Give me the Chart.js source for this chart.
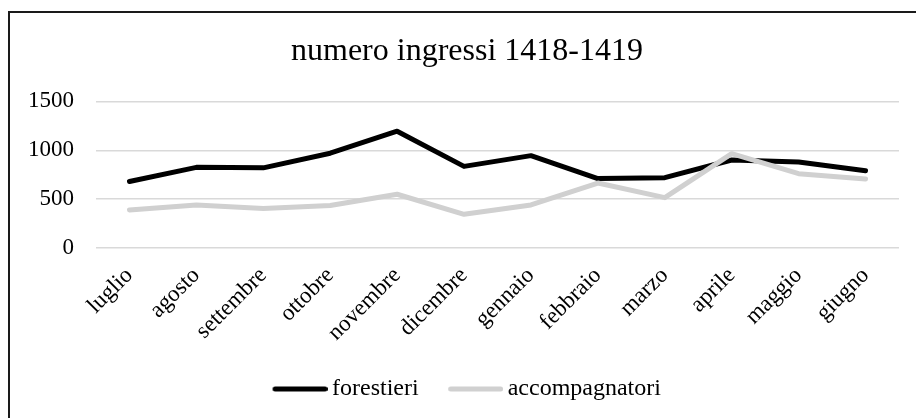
<!DOCTYPE html>
<html>
<head>
<meta charset="utf-8">
<script src="https://cdn.jsdelivr.net/npm/chart.js@4/dist/chart.umd.min.js"></script>
<style>
  html, body { margin: 0; padding: 0; background: #fff; overflow: hidden; width: 916px; height: 418px; }
  #frame {
    position: absolute; left: 8px; top: 11px;
    width: 920px; height: 420px;
    border: 2px solid #1a1a1a; background: #fff;
  }
  #wrap { position: absolute; left: 0; top: 0; width: 914px; height: 406px; }
</style>
</head>
<body>
<div id="frame"><div id="wrap"><canvas id="c"></canvas></div></div>
<script>
const months = ["luglio", "agosto", "settembre", "ottobre", "novembre", "dicembre",
  "gennaio", "febbraio", "marzo", "aprile", "maggio", "giugno"];
const forestieri = [680, 825, 820, 970, 1195, 835, 945, 710, 720, 900, 880, 790];
const accompagnatori = [390, 440, 405, 435, 550, 345, 440, 665, 515, 965, 760, 705];
const yTicks = [0, 500, 1000, 1500];

const FONT = "'Liberation Serif', 'Times New Roman', serif";

// legend swatch: a short thick line sitting at the right of a wider image,
// so the text follows close after it
function swatch(color) {
  const cv = document.createElement("canvas");
  cv.width = 62; cv.height = 8;
  const g = cv.getContext("2d");
  g.strokeStyle = color;
  g.lineWidth = 5;
  g.lineCap = "round";
  g.beginPath();
  g.moveTo(9.5, 4);
  g.lineTo(59.5, 4);
  g.stroke();
  return cv;
}

function line(label, data, color, order) {
  return {
    label, data, order,
    borderColor: color,
    backgroundColor: color,
    borderWidth: 5,
    borderCapStyle: "round",
    borderJoinStyle: "round",
    pointRadius: 0,
    pointHoverRadius: 0,
    tension: 0,
    pointStyle: swatch(color)
  };
}

new Chart(document.getElementById("c"), {
  type: "line",
  data: {
    labels: months,
    datasets: [
      line("forestieri", forestieri, "#000000", 1),
      line("accompagnatori", accompagnatori, "#d0d0d0", 0)
    ]
  },
  options: {
    responsive: true,
    maintainAspectRatio: false,
    animation: false,
    layout: { padding: { left: 0, right: 0, top: 0, bottom: 8 } },
    plugins: {
      title: {
        display: true,
        text: "numero ingressi 1418-1419",
        color: "#000",
        font: { family: FONT, size: 32, weight: "normal" },
        padding: { top: 19, bottom: 31 }
      },
      legend: {
        position: "bottom",
        labels: {
          color: "#000",
          font: { family: FONT, size: 24 },
          usePointStyle: true,
          pointStyleWidth: 47,
          boxHeight: 5,
          padding: 30,
          sort: (a, b) => a.datasetIndex - b.datasetIndex
        }
      },
      tooltip: { enabled: false }
    },
    scales: {
      x: {
        offset: true,
        grid: { display: false },
        border: { display: false },
        ticks: {
          color: "#000",
          font: { family: FONT, size: 23 },
          minRotation: 45,
          maxRotation: 45,
          padding: 6
        },
        afterFit: (s) => { s.height = 99; }
      },
      y: {
        min: 0,
        max: 1500,
        afterBuildTicks: (s) => { s.ticks = yTicks.map(v => ({ value: v })); },
        grid: { color: "#d9d9d9", lineWidth: 1.5, drawTicks: false },
        border: { display: false },
        ticks: {
          color: "#000",
          font: { family: FONT, size: 23 },
          padding: 22,
          callback: (v) => String(v)
        },
        afterFit: (s) => { s.width = 86; }
      },
      // empty right-hand spacer so the plot ends where the reference does
      // while title and legend stay centred on the whole frame
      spacer: {
        position: "right",
        grid: { display: false },
        border: { display: false },
        ticks: { display: false },
        afterFit: (s) => { s.width = 25; }
      }
    }
  }
});
</script>
</body>
</html>
